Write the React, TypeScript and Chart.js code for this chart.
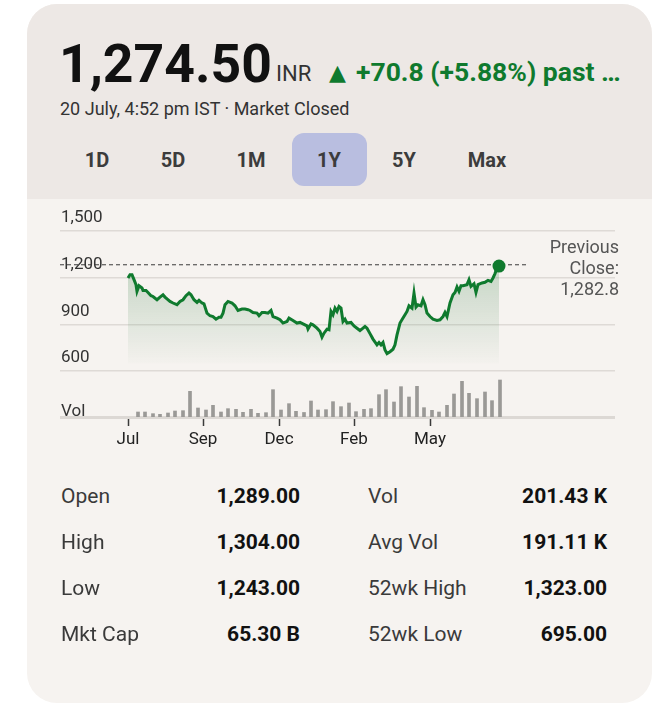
import React, { useEffect, useRef } from "react";
import { Chart, registerables } from "chart.js";

Chart.register(...registerables);

// ---------- data ----------
const priceDays = [
  0, 2, 4, 6, 8, 9, 11, 14, 15, 18, 20, 23, 25, 29, 32, 35, 37, 39, 42, 45,
  49, 52, 55, 58, 61, 63, 66, 69, 71, 74, 76, 79, 82, 85, 88, 91, 93, 95, 97, 100,
  104, 107, 110, 114, 117, 120,
  122, 125, 129, 131, 134, 137, 140, 143, 145, 149, 152, 155, 159, 161, 165, 169, 172, 175, 179, 180,
  183, 185, 189, 192, 194, 196, 199, 201, 203, 205, 207, 209, 211, 213, 215, 217, 219, 223, 226, 229,
  232, 235, 237, 239, 242, 245, 249, 251,
  253, 255, 257, 259, 262, 265, 267, 269, 272, 275, 277, 279, 281, 284, 286, 288, 290, 293, 295, 297,
  299, 302, 305, 309, 312, 315, 317, 319, 322, 325, 327, 329, 331, 333, 335, 339, 341, 343, 346, 348,
  350, 354, 357, 360, 363, 365, 367, 369, 371,
];
const prices = [
  1198, 1219, 1219, 1187, 1155, 1112, 1148, 1134, 1118, 1118, 1105, 1084, 1079, 1058, 1075, 1090, 1075, 1063, 1047, 1037,
  1026, 1047, 1058, 1084, 1101, 1090, 1058, 1041, 1054, 1037, 1032, 972, 955, 950, 933, 946, 946, 972, 1026, 1047,
  1037, 1019, 989, 998, 998, 994,
  989, 976, 972, 955, 976, 976, 972, 989, 950, 940, 929, 908, 918, 940, 925, 908, 912, 903, 890, 870,
  903, 897, 875, 854, 817, 843, 869, 865, 983, 961, 1004, 983, 1015, 1004, 918, 933, 908, 912, 890, 875,
  860, 875, 886, 875, 840, 805, 768, 783,
  768, 783, 735, 712, 724, 740, 768, 832, 908, 940, 961, 983, 1019, 1004, 1101, 1011, 1026, 1019, 1058, 1026,
  972, 950, 933, 925, 929, 950, 976, 950, 1037, 1090, 1105, 1140, 1112, 1148, 1148, 1155, 1187, 1144, 1161, 1105,
  1155, 1166, 1170, 1183, 1176, 1198, 1226, 1263, 1274.5,
];
const volumeDays = [
  10, 17, 25, 32, 40, 47, 55, 62, 70, 78, 85, 93, 100, 108, 115, 123, 130, 138, 145, 153,
  161, 168, 176, 183, 190, 198, 205, 213, 221, 228, 236, 243, 251, 258, 266, 273, 281, 289, 296, 304,
  311, 319, 326, 334, 341, 349, 357, 364, 372,
];
const volumesK = [
  75, 75, 50, 40, 60, 90, 95, 385, 135, 105, 175, 75, 125, 115, 70, 115, 55, 65, 410, 105,
  200, 85, 68, 240, 105, 110, 230, 155, 210, 80, 115, 125, 335, 410, 225, 455, 300, 460, 140, 100,
  75, 175, 345, 535, 355, 275, 375, 245, 555,
];
const priceTicks = [600, 900, 1200, 1500];
const monthTickDays = [0, 75, 151, 226, 302];
const monthLabels = ["Jul", "Sep", "Dec", "Feb", "May"];
const previousClose = 1282.8;

const ranges = ["1D", "5D", "1M", "1Y", "5Y", "Max"];
const rangeCenters = [97, 173, 251, 329, 404, 487];
const statLabelsLeft = ["Open", "High", "Low", "Mkt Cap"];
const statValuesLeft = ["1,289.00", "1,304.00", "1,243.00", "65.30 B"];
const statLabelsRight = ["Vol", "Avg Vol", "52wk High", "52wk Low"];
const statValuesRight = ["201.43 K", "191.11 K", "1,323.00", "695.00"];

const GREEN = "#0f7a2e";
const FONT = "Roboto, 'Noto Sans', sans-serif";

function PriceChart() {
  const ref = useRef<HTMLCanvasElement | null>(null);
  useEffect(() => {
    if (!ref.current) return;
    const last = prices.length - 1;
    const chart = new Chart(ref.current, {
      type: "line",
      data: {
        datasets: [
          {
            type: "line",
            data: priceDays.map((d, i) => ({ x: d, y: prices[i] })),
            yAxisID: "y",
            borderColor: GREEN,
            borderWidth: 3,
            tension: 0,
            pointRadius: (ctx: any) => (ctx.dataIndex === last ? 6.5 : 0),
            pointHoverRadius: 0,
            pointBorderWidth: 0,
            pointBackgroundColor: GREEN,
            fill: { value: 650 },
            backgroundColor: (ctx: any) => {
              const c = ctx.chart;
              if (!c.chartArea) return "rgba(0,0,0,0)";
              const y = c.scales.y;
              const g = c.ctx.createLinearGradient(0, y.getPixelForValue(1230), 0, y.getPixelForValue(650));
              g.addColorStop(0, "rgba(25,110,45,0.20)");
              g.addColorStop(1, "rgba(25,110,45,0.01)");
              return g;
            },
            order: 1,
          } as any,
          {
            type: "line",
            data: [
              { x: -68, y: previousClose },
              { x: 398, y: previousClose },
            ],
            yAxisID: "y",
            borderColor: "#3a3a3a",
            borderWidth: 1,
            borderDash: [4, 3],
            pointRadius: 0,
            fill: false,
            order: 2,
          } as any,
          {
            type: "bar",
            data: volumeDays.map((d, i) => ({ x: d, y: volumesK[i] })),
            yAxisID: "yv",
            backgroundColor: "#9a9996",
            barThickness: 3,
            order: 3,
          } as any,
        ],
      },
      options: {
        animation: false,
        responsive: false,
        maintainAspectRatio: false,
        events: [],
        layout: { autoPadding: false, padding: { top: 31, left: 0, right: 0, bottom: 0 } },
        plugins: { legend: { display: false }, tooltip: { enabled: false } },
        scales: {
          x: {
            type: "linear",
            min: -68,
            max: 487,
            offset: false,
            afterBuildTicks: (s: any) => {
              s.ticks = monthTickDays.map((v) => ({ value: v }));
            },
            afterFit: (s: any) => {
              s.height = 40;
              s.paddingLeft = 0;
              s.paddingRight = 0;
            },
            ticks: {
              autoSkip: false,
              maxRotation: 0,
              padding: 4,
              color: "#222",
              font: { family: FONT, size: 17 },
              callback: (v: any) => monthLabels[monthTickDays.indexOf(Number(v))] ?? "",
            },
            grid: {
              offset: false,
              drawOnChartArea: false,
              drawTicks: true,
              tickLength: 9,
              tickColor: "#3a3a3a",
              tickWidth: 1.5,
            },
            border: { display: true, color: "#dcd8d4", width: 3 },
          },
          y: {
            type: "linear",
            position: "left",
            min: 304,
            max: 1500,
            afterBuildTicks: (s: any) => {
              s.ticks = priceTicks.map((v) => ({ value: v }));
            },
            afterFit: (s: any) => {
              s.width = 0;
              s.paddingTop = 0;
              s.paddingBottom = 0;
            },
            ticks: {
              mirror: true,
              padding: 1,
              labelOffset: -13,
              color: "#333",
              font: { family: FONT, size: 17 },
              callback: (v: any) => Number(v).toLocaleString("en-US"),
            },
            grid: { color: "#dedad6", lineWidth: 1.5, drawTicks: false },
            border: { display: false },
          },
          yv: { type: "linear", display: false, min: 0, max: 2790 },
        },
      } as any,
    });
    return () => chart.destroy();
  }, []);
  return (
    <canvas
      ref={ref}
      width={555}
      height={257}
      style={{ position: "absolute", left: 60, top: 200, width: 555, height: 257 }}
    />
  );
}

export default function App() {
  const abs = (o: React.CSSProperties): React.CSSProperties => ({ position: "absolute", whiteSpace: "nowrap", ...o });
  return (
    <div style={{ position: "absolute", left: 0, top: 0, width: 657, height: 715, background: "#fff", fontFamily: FONT, overflow: "hidden" }}>
      <div style={abs({ left: 27, top: 4, width: 625, height: 699, borderRadius: 30, overflow: "hidden", background: "#f6f3f0" })}>
        <div style={{ position: "absolute", left: 0, top: 0, width: 625, height: 195, background: "#ede8e5" }} />
      </div>

      {/* header */}
      <div style={abs({ left: 59, top: 36.5, fontSize: 53.5, lineHeight: "53.5px", fontWeight: 700, color: "#111" })}>1,274.50</div>
      <div style={abs({ left: 276, top: 62.5, fontSize: 22, lineHeight: "22px", color: "#333" })}>INR</div>
      <div style={abs({ left: 329, top: 62, fontSize: 22, lineHeight: "22px", color: GREEN, fontFamily: "'DejaVu Sans'" })}>▲</div>
      <div style={abs({ left: 356, top: 58.7, fontSize: 26.5, lineHeight: "26.5px", fontWeight: 700, color: GREEN })}>+70.8 (+5.88%) past …</div>
      <div style={abs({ left: 60, top: 99.5, fontSize: 18, lineHeight: "18px", color: "#333" })}>20 July, 4:52 pm IST · Market Closed</div>

      {/* range buttons */}
      <div style={abs({ left: 292, top: 133, width: 75, height: 53, borderRadius: 12, background: "#b9bee0" })} />
      {ranges.map((r, i) => (
        <div key={r} style={abs({ left: rangeCenters[i] - 40, width: 80, top: 149.5, textAlign: "center", fontSize: 20, lineHeight: "20px", fontWeight: 700, color: "#3c3c3c" })}>
          {r}
        </div>
      ))}

      <PriceChart />

      {/* previous close */}
      <div style={abs({ left: 480, width: 139, top: 236, textAlign: "right", fontSize: 18, lineHeight: "21px", color: "#555", whiteSpace: "normal" })}>
        Previous
        <br />
        Close:
        <br />
        1,282.8
      </div>
      <div style={abs({ left: 61, top: 401.5, fontSize: 17, lineHeight: "17px", color: "#333" })}>Vol</div>

      {/* stats */}
      {statLabelsLeft.map((l, i) => (
        <React.Fragment key={l}>
          <div style={abs({ left: 61, top: 473 + i * 46, height: 46, lineHeight: "46px", fontSize: 21, color: "#3a3a3a" })}>{l}</div>
          <div style={abs({ left: 170, width: 130, top: 473 + i * 46, height: 46, lineHeight: "46px", fontSize: 21, fontWeight: 700, color: "#111", textAlign: "right" })}>
            {statValuesLeft[i]}
          </div>
          <div style={abs({ left: 368, top: 473 + i * 46, height: 46, lineHeight: "46px", fontSize: 21, color: "#3a3a3a" })}>{statLabelsRight[i]}</div>
          <div style={abs({ left: 477, width: 130, top: 473 + i * 46, height: 46, lineHeight: "46px", fontSize: 21, fontWeight: 700, color: "#111", textAlign: "right" })}>
            {statValuesRight[i]}
          </div>
        </React.Fragment>
      ))}
    </div>
  );
}
